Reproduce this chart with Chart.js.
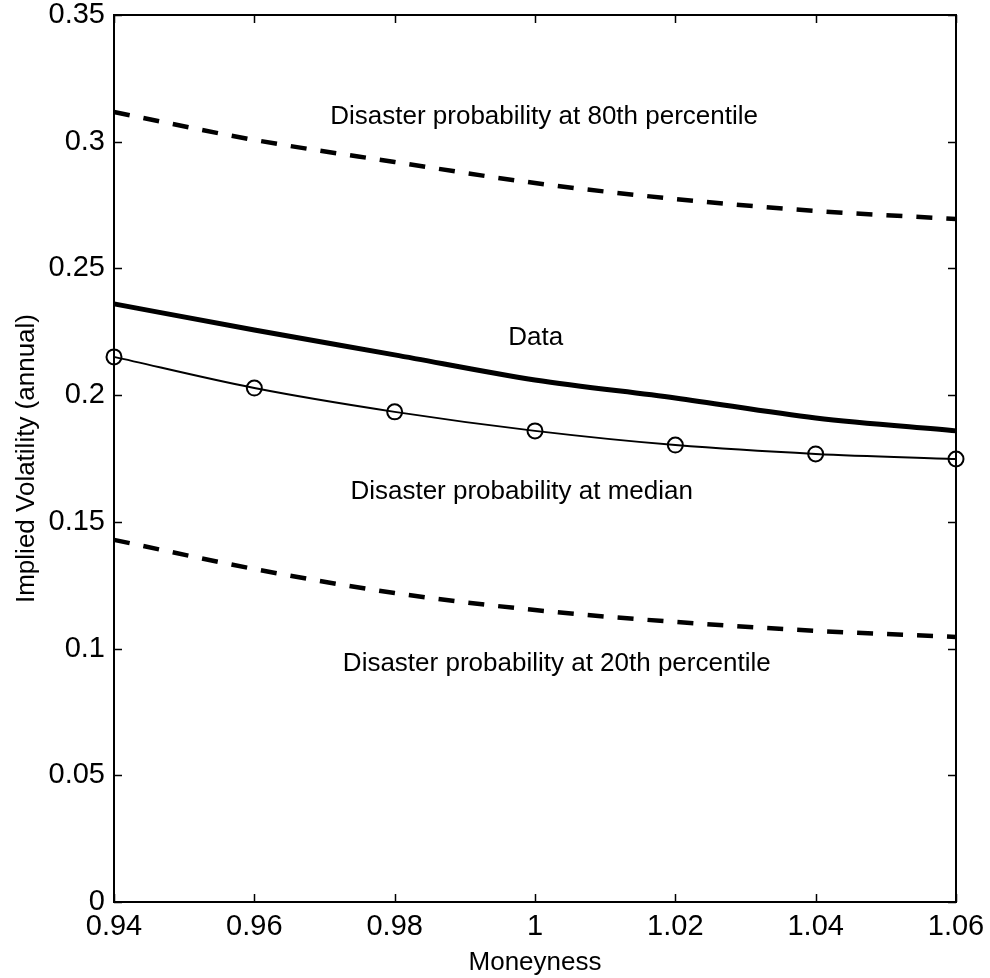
<!DOCTYPE html>
<html>
<head>
<meta charset="utf-8">
<script src="https://cdn.jsdelivr.net/npm/chart.js@4/dist/chart.umd.min.js"></script>
<style>
  html, body { margin: 0; padding: 0; background: #fff; }
  #wrap { width: 990px; height: 978px; }
</style>
</head>
<body>
<div id="wrap"><canvas id="volChart" width="990" height="978"></canvas></div>
<script>
// moneyness grid
const moneyness = [0.94, 0.96, 0.98, 1.00, 1.02, 1.04, 1.06];

// implied volatility
const dataVol   = [0.236, 0.2257, 0.2159, 0.206, 0.1989, 0.191, 0.1859];
const medianVol = [0.2151, 0.2028, 0.1934, 0.1859, 0.1803, 0.1768, 0.1748];
const p80Vol    = [0.3117, 0.3007, 0.292, 0.2837, 0.2774, 0.2727, 0.2695];
const p20Vol    = [0.1429, 0.1314, 0.1219, 0.1152, 0.1105, 0.107, 0.1046];

const xTicks = [0.94, 0.96, 0.98, 1.00, 1.02, 1.04, 1.06];
const yTicks = [0, 0.05, 0.1, 0.15, 0.2, 0.25, 0.3, 0.35];

// text labels placed in data coordinates
const notes = [
  { text: 'Disaster probability at 80th percentile', x: 1.0013, y: 0.310 },
  { text: 'Data', x: 1.0001, y: 0.2226 },
  { text: 'Disaster probability at median', x: 0.9981, y: 0.1618 },
  { text: 'Disaster probability at 20th percentile', x: 1.0031, y: 0.0939 }
];

const FONT = 'Liberation Sans, Arial, Helvetica, sans-serif';

function pts(ys) {
  return moneyness.map((x, i) => ({ x: x, y: ys[i] }));
}

// frame, inward ticks on all four sides, and the text notes
const framePlugin = {
  id: 'frame',
  afterDatasetsDraw(chart) {
    const ctx = chart.ctx;
    const a = chart.chartArea;
    const xs = chart.scales.x, ys = chart.scales.y;
    const tl = 8;
    ctx.save();
    ctx.strokeStyle = '#000';
    ctx.lineWidth = 1.5;
    ctx.beginPath();
    xTicks.forEach(v => {
      const px = Math.round(xs.getPixelForValue(v)) + 0.5;
      ctx.moveTo(px, a.bottom); ctx.lineTo(px, a.bottom - tl);
      ctx.moveTo(px, a.top); ctx.lineTo(px, a.top + tl);
    });
    yTicks.forEach(v => {
      const py = Math.round(ys.getPixelForValue(v)) + 0.5;
      ctx.moveTo(a.left, py); ctx.lineTo(a.left + tl, py);
      ctx.moveTo(a.right, py); ctx.lineTo(a.right - tl, py);
    });
    ctx.stroke();
    ctx.lineWidth = 2;
    ctx.strokeRect(a.left, a.top, a.right - a.left, a.bottom - a.top);

    ctx.fillStyle = '#000';
    ctx.font = '26px ' + FONT;
    ctx.textAlign = 'center';
    ctx.textBaseline = 'middle';
    notes.forEach(n => {
      ctx.fillText(n.text, xs.getPixelForValue(n.x), ys.getPixelForValue(n.y));
    });
    ctx.restore();
  }
};

const dashed = [16, 14];

new Chart(document.getElementById('volChart').getContext('2d'), {
  type: 'line',
  data: {
    datasets: [
      {
        label: 'Data',
        data: pts(dataVol),
        borderColor: '#000',
        borderWidth: 5,
        pointRadius: 0,
        cubicInterpolationMode: 'monotone'
      },
      {
        label: 'Median',
        data: pts(medianVol),
        borderColor: '#000',
        borderWidth: 2,
        pointRadius: 7.5,
        pointBorderWidth: 2,
        pointBackgroundColor: 'rgba(0,0,0,0)',
        pointBorderColor: '#000',
        cubicInterpolationMode: 'monotone'
      },
      {
        label: '80th',
        data: pts(p80Vol),
        borderColor: '#000',
        borderWidth: 4.5,
        borderDash: dashed,
        pointRadius: 0,
        cubicInterpolationMode: 'monotone'
      },
      {
        label: '20th',
        data: pts(p20Vol),
        borderColor: '#000',
        borderWidth: 4.5,
        borderDash: dashed,
        pointRadius: 0,
        cubicInterpolationMode: 'monotone'
      }
    ]
  },
  options: {
    responsive: false,
    animation: false,
    clip: false,
    layout: { padding: { top: 15, right: 34, left: 0, bottom: 0 } },
    plugins: {
      legend: { display: false },
      tooltip: { enabled: false }
    },
    scales: {
      x: {
        type: 'linear',
        min: 0.94,
        max: 1.06,
        afterBuildTicks(scale) { scale.ticks = xTicks.map(v => ({ value: v })); },
        afterFit(scale) {
          scale.height = 76;
          scale.paddingLeft = 0;
          scale.paddingRight = 0;
        },
        grid: { display: false, drawTicks: false },
        border: { display: false },
        ticks: {
          color: '#000',
          padding: 8,
          maxRotation: 0,
          font: { family: FONT, size: 29 },
          callback: v => String(Math.round(v * 100) / 100)
        },
        title: {
          display: true,
          text: 'Moneyness',
          color: '#000',
          font: { family: FONT, size: 26 },
          padding: { top: 0, bottom: 0 }
        }
      },
      y: {
        type: 'linear',
        min: 0,
        max: 0.35,
        afterBuildTicks(scale) { scale.ticks = yTicks.map(v => ({ value: v })); },
        afterFit(scale) {
          scale.width = 114;
          scale.paddingTop = 0;
          scale.paddingBottom = 0;
        },
        grid: { display: false, drawTicks: false },
        border: { display: false },
        ticks: {
          color: '#000',
          padding: 9,
          font: { family: FONT, size: 29 },
          callback: v => String(Math.round(v * 100) / 100)
        },
        title: {
          display: true,
          text: 'Implied Volatility (annual)',
          color: '#000',
          font: { family: FONT, size: 26 },
          padding: { top: 11, bottom: 0 }
        }
      }
    }
  },
  plugins: [framePlugin]
});
</script>
</body>
</html>
